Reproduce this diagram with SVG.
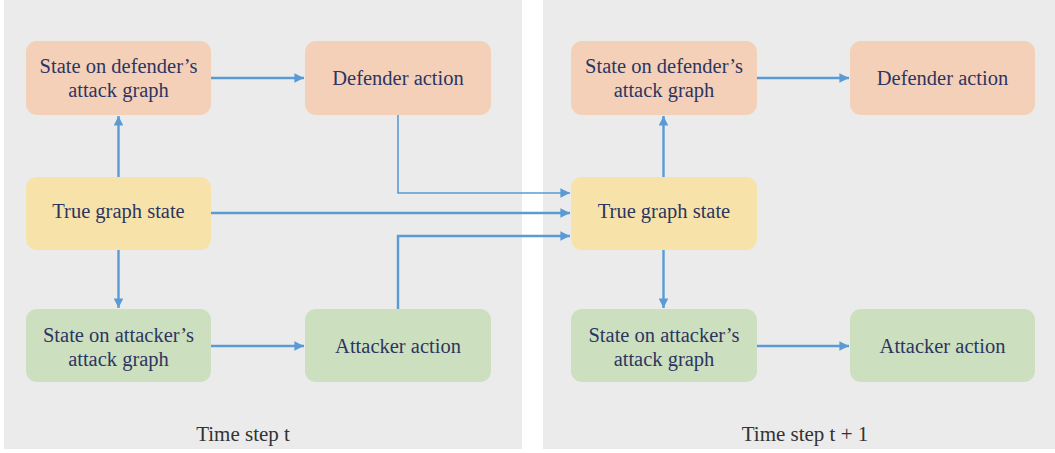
<svg xmlns="http://www.w3.org/2000/svg" width="1055" height="453" viewBox="0 0 1055 453">
<style>
.panel{fill:#ebebeb}
.def{fill:#f4d0b9}
.tru{fill:#f7e3a9}
.att{fill:#cce0bf}
.lbl{font-family:'Liberation Serif','Times New Roman','DejaVu Serif',serif;font-size:20.5px;fill:#2d3561;text-anchor:middle}
.cap{font-family:'Liberation Serif','Times New Roman','DejaVu Serif',serif;font-size:21px;fill:#333333;text-anchor:middle}
.c{fill:none;stroke:#5b9bd5;stroke-width:2.4}
.thin{stroke-width:1.6}
</style>
<defs>
<marker id="ah" viewBox="0 0 10 10" refX="10" refY="5" markerWidth="4" markerHeight="4" markerUnits="strokeWidth" orient="auto">
<path d="M0,0 L10,5 L0,10 z" fill="#5b9bd5"/>
</marker>
<marker id="ah2" viewBox="0 0 10 10" refX="10" refY="5" markerWidth="6" markerHeight="6" markerUnits="strokeWidth" orient="auto">
<path d="M0,0 L10,5 L0,10 z" fill="#5b9bd5"/>
</marker>
</defs>
<rect width="1055" height="453" fill="#ffffff"/>
<rect class="panel" x="4" y="0" width="518" height="449"/>
<rect class="panel" x="543" y="0" width="512" height="449"/>
<text class="cap" x="243" y="441">Time step t</text>
<text class="cap" x="805" y="441">Time step t + 1</text>

<g id="connectors">
<path class="c" d="M118.5,177 V116" marker-end="url(#ah)"/>
<path class="c" d="M211,78 H304" marker-end="url(#ah)"/>
<path class="c" d="M118.5,250 V308" marker-end="url(#ah)"/>
<path class="c" d="M211,346 H304" marker-end="url(#ah)"/>
<path class="c thin" d="M398,115 V193 H570" marker-end="url(#ah2)"/>
<path class="c" d="M211,213 H570" marker-end="url(#ah)"/>
<path class="c" d="M398,309 V236 H570" marker-end="url(#ah)"/>
<path class="c" d="M663.5,177 V116" marker-end="url(#ah)"/>
<path class="c" d="M757,78 H849" marker-end="url(#ah)"/>
<path class="c" d="M663.5,250 V308" marker-end="url(#ah)"/>
<path class="c" d="M757,346 H849" marker-end="url(#ah)"/>
</g>

<g id="defState_t"><rect class="def" x="26" y="41" width="185" height="74" rx="11"/><text class="lbl" x="118.5" y="73">State on defender’s</text><text class="lbl" x="118.5" y="97">attack graph</text></g>
<g id="defAction_t"><rect class="def" x="305" y="41" width="186" height="74" rx="11"/><text class="lbl" x="398" y="85">Defender action</text></g>
<g id="trueState_t"><rect class="tru" x="26" y="177" width="185" height="73" rx="11"/><text class="lbl" x="118.5" y="218">True graph state</text></g>
<g id="attState_t"><rect class="att" x="26" y="309" width="185" height="73" rx="11"/><text class="lbl" x="118.5" y="342">State on attacker’s</text><text class="lbl" x="118.5" y="366">attack graph</text></g>
<g id="attAction_t"><rect class="att" x="305" y="309" width="186" height="73" rx="11"/><text class="lbl" x="398" y="353">Attacker action</text></g>

<g id="defState_t1"><rect class="def" x="571" y="41" width="186" height="74" rx="11"/><text class="lbl" x="664" y="73">State on defender’s</text><text class="lbl" x="664" y="97">attack graph</text></g>
<g id="defAction_t1"><rect class="def" x="850" y="41" width="185" height="74" rx="11"/><text class="lbl" x="942.5" y="85">Defender action</text></g>
<g id="trueState_t1"><rect class="tru" x="571" y="177" width="186" height="73" rx="11"/><text class="lbl" x="664" y="218">True graph state</text></g>
<g id="attState_t1"><rect class="att" x="571" y="309" width="186" height="73" rx="11"/><text class="lbl" x="664" y="342">State on attacker’s</text><text class="lbl" x="664" y="366">attack graph</text></g>
<g id="attAction_t1"><rect class="att" x="850" y="309" width="185" height="73" rx="11"/><text class="lbl" x="942.5" y="353">Attacker action</text></g>
</svg>
